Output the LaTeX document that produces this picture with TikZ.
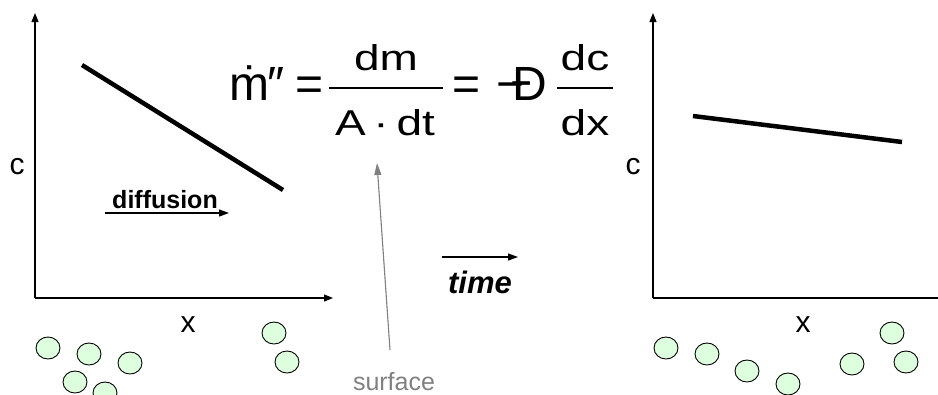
\documentclass[tikz,border=0pt]{standalone}
\usepackage{fontspec}
\usepackage{graphicx}
\setmainfont{Liberation Sans}
\usetikzlibrary{arrows.meta}
\definecolor{partfill}{RGB}{221,255,221}
\definecolor{surfgray}{RGB}{128,128,128}
\tikzset{
  axis/.style={line width=1.1pt, -{Triangle[length=9pt,width=7pt]}},
  flowarrow/.style={line width=1.2pt, -{Triangle[length=10pt,width=7pt]}},
  profile/.style={line width=4.5pt},
  particle/.style={draw=black, line width=0.9pt, fill=partfill},
  lbl/.style={inner sep=0pt, font=\fontsize{30}{36}\selectfont},
  eqtxt/.style={inner sep=0pt, anchor=base, font=\fontsize{48}{56}\selectfont},
  fractxt/.style={inner sep=0pt, anchor=base, font=\fontsize{46}{54}\selectfont},
  fracbar/.style={line width=1.6pt},
}
\newcommand{\squash}[1]{\scalebox{1}[0.78]{#1}}
\begin{document}
\begin{tikzpicture}[x=1pt,y=-1pt]
        \useasboundingbox (0,0) rectangle (938,394);

        % Perfil inicial
        \coordinate (oL) at (35,298);
        \coordinate (yL) at (35,13);
        \coordinate (xL) at (333,298);
        \draw[axis] (oL) -- (yL);
        \draw[axis] (oL) -- (xL);
        \draw[profile] (82,65) -- (283,190);
        \node[lbl] (cL) at (17,167) {c};
        \node[lbl] (xlabL) at (188,325) {x};

        % Flujo por difusion
        \node[inner sep=0pt, anchor=base, font=\fontsize{25}{30}\selectfont\bfseries] (diff) at (165,208) {diffusion};
        \coordinate (diffA) at (105,213);
        \coordinate (diffB) at (229,213);
        \draw[flowarrow] (diffA) -- (diffB);

        % Perfil final
        \coordinate (oR) at (653,298);
        \coordinate (yR) at (653,13);
        \coordinate (xR) at (938,298);
        \draw[axis] (oR) -- (yR);
        \draw[line width=1.1pt] (oR) -- (xR);
        \draw[profile] (693,116) -- (902,142);
        \node[lbl] (cR) at (633,167) {c};
        \node[lbl] (xlabR) at (803,325) {x};

        % Tiempo
        \node[inner sep=0pt, anchor=base, font=\fontsize{31}{36}\selectfont\bfseries\itshape] (time) at (480,293) {time};
        \coordinate (timeA) at (442,257);
        \coordinate (timeB) at (518,257);
        \draw[flowarrow] (timeA) -- (timeB);

        % Particulas
        \foreach \px/\py in {48/348, 89/354, 130/363, 75/382, 105/393, 274/333, 287/362,
                             666/348, 707/354, 747/371, 788/384, 852/364, 892/333, 906/362}
          \draw[particle] (\px,\py) ellipse (12 and 11);

        % Ley de Fick
        \node[eqtxt] (mdot) at (257,100) {ṁ\kern-0.05em″};
        \node[eqtxt] (eqA) at (310,100) {=};
        \node[fractxt] (numA) at (386,70) {\squash{dm}};
        \node[fractxt] (denA) at (385,135) {\squash{A\kern0.17em·\kern0.17em dt}};
        \draw[fracbar] (329,88) -- (443,88);
        \node[eqtxt] (eqB) at (467,100) {=};
        \node[eqtxt] (diffc) at (522,100) {−\kern-0.25em Đ};
        \node[fractxt] (numB) at (585,70) {\squash{dc}};
        \node[fractxt] (denB) at (585,135) {\squash{dx}};
        \draw[fracbar] (557,88) -- (613,88);

        % Superficie
        \node[inner sep=0pt, anchor=base, text=surfgray, font=\fontsize{25}{30}\selectfont] (surf) at (394,390) {surface};
        \coordinate (surfA) at (390,350);
        \coordinate (surfB) at (377,163);
        \draw[line width=1.1pt, draw=surfgray, fill=surfgray, -{Triangle[length=12pt,width=7pt]}] (surfA) -- (surfB);
\end{tikzpicture}
\end{document}
